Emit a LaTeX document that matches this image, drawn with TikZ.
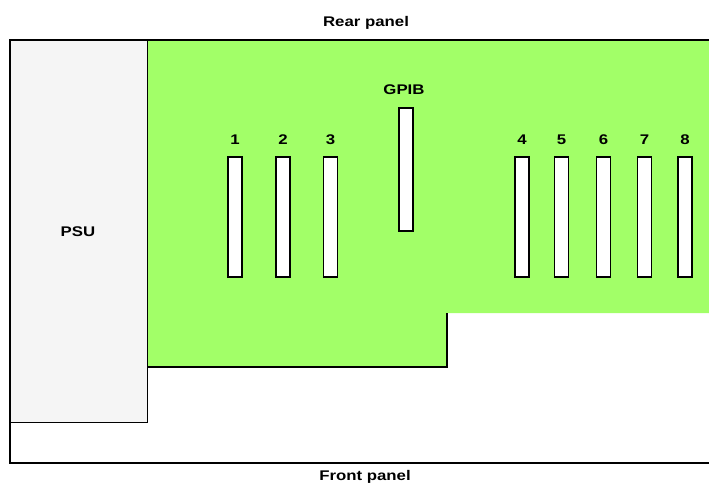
\documentclass[tikz,border=0pt]{standalone}
\usepackage{fontspec}
\setmainfont{Liberation Sans}[FakeStretch=1.2]
\definecolor{boardgreen}{RGB}{162,255,104}
\definecolor{psugray}{RGB}{245,245,245}
\begin{document}
\begin{tikzpicture}[x=1pt,y=-1pt,
  lbl/.style={font=\bfseries\fontsize{14}{15}\selectfont, anchor=base, inner sep=0pt},
  slotbox/.style={draw=black, fill=white, line width=1.3pt, minimum width=14pt, minimum height=120pt, inner sep=0pt},
  edge/.style={draw=black, line width=1.3pt}]
\useasboundingbox (0,0) rectangle (709,483);
% board
\fill[boardgreen] (147,40) -- (709,40) -- (709,313) -- (447,313) -- (447,367) -- (147,367) -- cycle;
\draw[edge] (447,313) -- (447,367) -- (147,367);
% frame
\draw[edge] (709,40) -- (10,40) -- (10,463) -- (709,463);
% PSU
\node[edge, fill=psugray, minimum width=137pt, minimum height=382pt, inner sep=0pt, anchor=north west] (psu) at (10,40) {};
\node[lbl] (psul) at (78,236) {PSU};
% labels
\node[lbl] (rear) at (366,26) {Rear panel};
\node[lbl] (front) at (365,480) {Front panel};
% slots
\node[slotbox] (s1) at (235,217) {};
\node[slotbox] (s2) at (283,217) {};
\node[slotbox] (s3) at (330.5,217) {};
\node[slotbox] (s4) at (522,217) {};
\node[slotbox] (s5) at (561.5,217) {};
\node[slotbox] (s6) at (603.5,217) {};
\node[slotbox] (s7) at (644.5,217) {};
\node[slotbox] (s8) at (685,217) {};
\node[slotbox, minimum height=123pt] (gpib) at (406,169.5) {};
\foreach \n in {1,...,8}{\node[lbl] (l\n) at ([yshift=12pt]s\n.north) {\n};}
\node[lbl] (gl) at (404,94) {GPIB};
\end{tikzpicture}
\end{document}
